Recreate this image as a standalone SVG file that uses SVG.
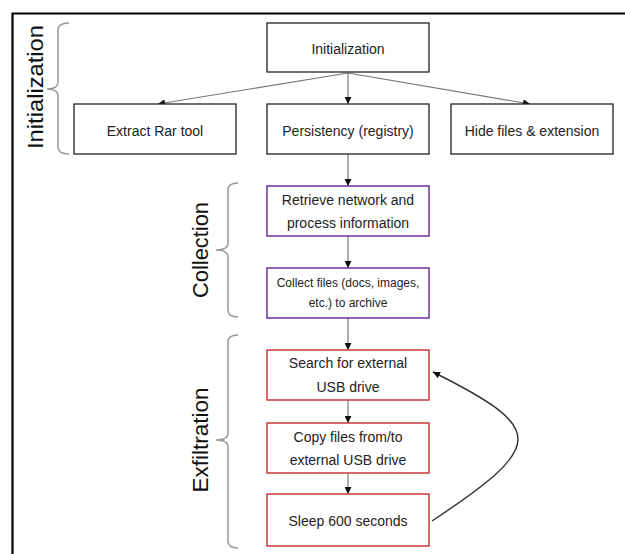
<svg xmlns="http://www.w3.org/2000/svg" width="625" height="554" viewBox="0 0 625 554">
<defs>
<style>
.box{fill:#fff;stroke:#222;stroke-width:1.3}
.pur{fill:#fff;stroke:#7030A0;stroke-width:1.5}
.red{fill:#fff;stroke:#C8383C;stroke-width:1.5}
.t{font-family:"Liberation Sans",Arial,sans-serif;font-size:14px;fill:#222;text-anchor:middle;dominant-baseline:central}
.s{font-size:12px}
.lbl{font-family:"Liberation Sans",Arial,sans-serif;font-size:22px;fill:#111;text-anchor:middle;dominant-baseline:central}
.br{fill:none;stroke:#999;stroke-width:1.5}
.c{fill:none;stroke:#777;stroke-width:1.2}
.cv{fill:none;stroke:#333;stroke-width:1.4}
</style>
<marker id="ah" viewBox="0 0 10 10" refX="10" refY="5" markerWidth="7" markerHeight="7" orient="auto" markerUnits="userSpaceOnUse">
<path d="M0,0 L10,5 L0,10 z" fill="#111"/>
</marker>
</defs>
<rect x="0" y="0" width="625" height="554" fill="#fff"/>
<path d="M12.5,554 V13.5 H625" fill="none" stroke="#000" stroke-width="2.2"/>

<g id="brackets">
<path class="br" d="M69,23 Q58,23 58,30 V82 Q58,89 47,89 Q58,89 58,96 V147 Q58,154 69,154"/>
<path class="br" d="M238,183 Q228,183 228,190 V243 Q228,250 216,250 Q228,250 228,257 V310 Q228,317 238,317"/>
<path class="br" d="M238,335 Q228,335 228,342 V433 Q228,440 216,440 Q228,440 228,447 V541 Q228,548 238,548"/>
<text class="lbl" transform="translate(35,87) rotate(-90)" textLength="124" lengthAdjust="spacingAndGlyphs">Initialization</text>
<text class="lbl" transform="translate(200,250) rotate(-90)" textLength="96" lengthAdjust="spacingAndGlyphs">Collection</text>
<text class="lbl" transform="translate(200,440) rotate(-90)" textLength="105" lengthAdjust="spacingAndGlyphs">Exfiltration</text>
</g>

<g id="connectors">
<line class="c" x1="348" y1="73" x2="158" y2="104" marker-end="url(#ah)"/>
<line class="c" x1="348" y1="73" x2="348" y2="104" marker-end="url(#ah)"/>
<line class="c" x1="348" y1="73" x2="530" y2="104" marker-end="url(#ah)"/>
<line class="c" x1="348" y1="154" x2="348" y2="186" marker-end="url(#ah)"/>
<line class="c" x1="348" y1="236" x2="348" y2="268" marker-end="url(#ah)"/>
<line class="c" x1="348" y1="318" x2="348" y2="350" marker-end="url(#ah)"/>
<line class="c" x1="348" y1="400" x2="348" y2="423" marker-end="url(#ah)"/>
<line class="c" x1="348" y1="473" x2="348" y2="494" marker-end="url(#ah)"/>
<path class="cv" d="M432,521 C546,445 547,429 433,372" marker-end="url(#ah)"/>
</g>

<g id="n-init"><rect class="box" x="267" y="23" width="162" height="49"/><text class="t" x="348" y="49">Initialization</text></g>
<g id="n-extract"><rect class="box" x="74" y="104" width="162" height="50"/><text class="t" x="155" y="131">Extract Rar tool</text></g>
<g id="n-persist"><rect class="box" x="267" y="104" width="162" height="50"/><text class="t" x="348" y="131">Persistency (registry)</text></g>
<g id="n-hide"><rect class="box" x="451" y="104" width="162" height="50"/><text class="t" x="532" y="131">Hide files &amp; extension</text></g>

<g id="n-retrieve"><rect class="pur" x="267" y="186" width="162" height="50"/><text class="t" x="348" y="200">Retrieve network and</text><text class="t" x="348" y="223">process information</text></g>
<g id="n-collect"><rect class="pur" x="267" y="268" width="162" height="50"/><text class="t s" x="348" y="283">Collect files (docs, images,</text><text class="t s" x="348" y="303">etc.) to archive</text></g>

<g id="n-search"><rect class="red" x="267" y="350" width="162" height="50"/><text class="t" x="348" y="363">Search for external</text><text class="t" x="348" y="387">USB drive</text></g>
<g id="n-copy"><rect class="red" x="267" y="423" width="162" height="50"/><text class="t" x="348" y="437">Copy files from/to</text><text class="t" x="348" y="460">external USB drive</text></g>
<g id="n-sleep"><rect class="red" x="267" y="494" width="162" height="52"/><text class="t" x="348" y="521">Sleep 600 seconds</text></g>
</svg>
